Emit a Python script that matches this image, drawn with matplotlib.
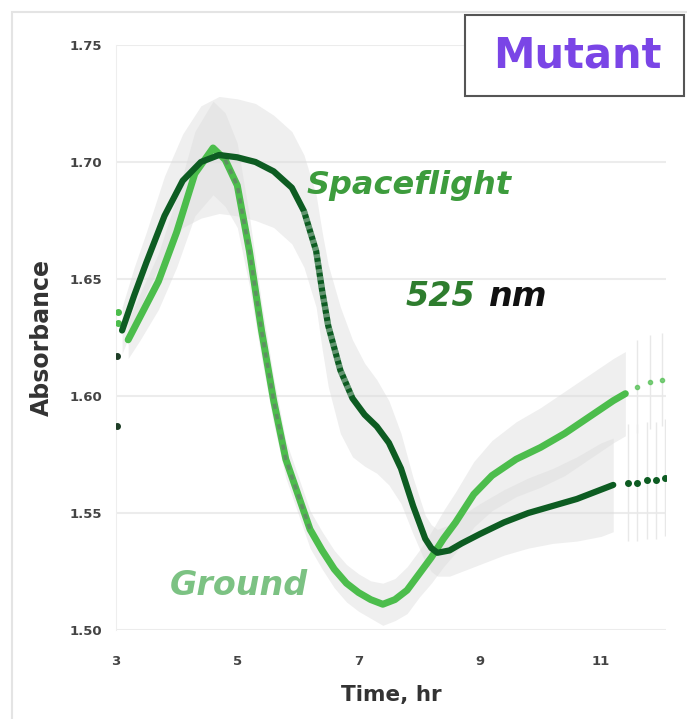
import numpy as np
import matplotlib.pyplot as plt
from matplotlib.patches import Rectangle

# spaceflight (mutant) absorbance at 525 nm
sf_t = [3.1, 3.3, 3.5, 3.8, 4.1, 4.4, 4.7, 5.0, 5.3, 5.6, 5.9, 6.1, 6.3, 6.4, 6.5, 6.7, 6.9,
        7.1, 7.3, 7.5, 7.7, 7.9, 8.1, 8.2, 8.3, 8.5, 8.7, 9.0, 9.4, 9.8, 10.2, 10.6, 11.0, 11.2]
sf_a = [1.628, 1.643, 1.657, 1.677, 1.692, 1.700, 1.703, 1.702, 1.700, 1.696, 1.689, 1.679,
        1.662, 1.645, 1.630, 1.611, 1.599, 1.592, 1.587, 1.580, 1.569, 1.553, 1.539, 1.535,
        1.533, 1.534, 1.537, 1.541, 1.546, 1.550, 1.553, 1.556, 1.560, 1.562]
sf_sd = [0.010, 0.012, 0.013, 0.017, 0.020, 0.024, 0.025, 0.025, 0.025, 0.024, 0.024, 0.024,
         0.024, 0.025, 0.026, 0.027, 0.025, 0.022, 0.020, 0.018, 0.015, 0.012, 0.010, 0.010,
         0.010, 0.011, 0.012, 0.013, 0.014, 0.015, 0.016, 0.018, 0.020, 0.020]
sf_head_t = [3.02, 3.02]
sf_head_a = [1.587, 1.617]
sf_tail_t = [11.45, 11.6, 11.75, 11.9, 12.05]
sf_tail_a = [1.563, 1.563, 1.564, 1.564, 1.565]

# ground
gr_t = [3.2, 3.4, 3.7, 4.0, 4.3, 4.6, 4.8, 5.0, 5.2, 5.4, 5.6, 5.8, 6.0, 6.2, 6.4, 6.6, 6.8,
        7.0, 7.2, 7.4, 7.6, 7.8, 8.0, 8.2, 8.4, 8.6, 8.9, 9.2, 9.6, 10.0, 10.4, 10.8, 11.2, 11.4]
gr_a = [1.624, 1.634, 1.649, 1.670, 1.695, 1.706, 1.701, 1.690, 1.662, 1.628, 1.598, 1.573,
        1.558, 1.543, 1.534, 1.526, 1.520, 1.516, 1.513, 1.511, 1.513, 1.517, 1.524, 1.531,
        1.539, 1.546, 1.558, 1.566, 1.573, 1.578, 1.584, 1.591, 1.598, 1.601]
gr_sd = [0.008, 0.010, 0.012, 0.015, 0.018, 0.020, 0.020, 0.018, 0.015, 0.012, 0.010, 0.008,
         0.008, 0.008, 0.008, 0.008, 0.008, 0.008, 0.008, 0.009, 0.009, 0.010, 0.010, 0.011,
         0.012, 0.013, 0.014, 0.015, 0.016, 0.017, 0.018, 0.018, 0.018, 0.018]
gr_head_t = [3.04, 3.04]
gr_head_a = [1.636, 1.631]
gr_tail_t = [11.6, 11.8, 12.0]
gr_tail_a = [1.604, 1.606, 1.607]

xticks = [3, 5, 7, 9, 11]
yticks = [1.50, 1.55, 1.60, 1.65, 1.70, 1.75]

dark = '#0d5c22'
light = '#4cbd4c'

fig = plt.figure(figsize=(6.87, 7.19), dpi=100)
# faint frame of the original panel
fig.patches.append(Rectangle((12/687, -0.1), 1.2, 1 - 12/719 + 0.1, transform=fig.transFigure,
                             fill=False, ec='#e4e4e4', lw=1.5))
ax = fig.add_axes([116/687, 89/719, 550/687, 585/719])

sf_t_ = np.array(sf_t); sf_a_ = np.array(sf_a); sf_sd_ = np.array(sf_sd)
gr_t_ = np.array(gr_t); gr_a_ = np.array(gr_a); gr_sd_ = np.array(gr_sd)

ax.fill_between(sf_t_, sf_a_ - sf_sd_, sf_a_ + sf_sd_, color='#dcdcdc', alpha=0.45, lw=0)
ax.fill_between(gr_t_, gr_a_ - gr_sd_, gr_a_ + gr_sd_, color='#dcdcdc', alpha=0.45, lw=0)

# faint error bars on the trailing points
ax.errorbar(sf_tail_t, sf_tail_a, yerr=0.025, fmt='none', ecolor='#e8e8e8', lw=1)
ax.errorbar(gr_tail_t, gr_tail_a, yerr=0.02, fmt='none', ecolor='#e8e8e8', lw=1)

ax.plot(gr_t, gr_a, color=light, lw=5, solid_capstyle='round', solid_joinstyle='round', zorder=3)
desc = (gr_t_ >= 4.7) & (gr_t_ <= 6.3)
ax.plot(gr_t_[desc], gr_a_[desc], color='#5e8f62', lw=2.5, ls=(0, (1.5, 1.5)), zorder=4)
ax.plot(sf_t, sf_a, color=dark, lw=4.5, solid_capstyle='round', solid_joinstyle='round', zorder=5)
drop = (sf_t_ >= 6.1) & (sf_t_ <= 6.9)
ax.plot(sf_t_[drop], sf_a_[drop], color='white', lw=4.5, ls=(0, (0.6, 0.6)), alpha=0.35, zorder=6)

ax.plot(sf_head_t, sf_head_a, 'o', color='#1e3d26', ms=4, zorder=5)
ax.plot(sf_tail_t, sf_tail_a, 'o', color=dark, ms=4, zorder=5)
ax.plot(gr_head_t, gr_head_a, 'o', color=light, ms=4, zorder=4)
ax.plot(gr_tail_t, gr_tail_a, 'o', color=light, ms=3, alpha=0.7, zorder=4)

ax.set_xlim(3, 12.07)
ax.set_ylim(1.50, 1.75)
ax.set_xticks(xticks)
ax.set_yticks(yticks)
ax.set_xticklabels([str(v) for v in xticks], fontsize=9.5, fontweight='bold', color='#444444')
ax.set_yticklabels([f'{v:.2f}' for v in yticks], fontsize=9.5, fontweight='bold', color='#444444')
ax.tick_params(axis='y', length=0, pad=10)
ax.tick_params(axis='x', length=0, pad=18)
ax.grid(axis='y', color='#ececec', lw=1.5)
ax.set_axisbelow(True)
for s in ['top', 'right', 'bottom']:
    ax.spines[s].set_visible(False)
ax.spines['left'].set_color('#eeeeee')

ax.set_xlabel('Time, hr', fontsize=15.5, fontweight='bold', color='#333333', labelpad=12)
ax.set_ylabel('Absorbance', fontsize=17, fontweight='bold', color='#333333', labelpad=11)

ax.text(6.15, 1.69, 'Spaceflight', fontsize=23, fontweight='bold', style='italic',
        color='#3d9c3d', va='center', ha='left')
ax.text(7.77, 1.6425, '525', fontsize=24, fontweight='bold', style='italic',
        color='#2e7d2e', va='center', ha='left')
ax.text(9.15, 1.6425, 'nm', fontsize=24, fontweight='bold', style='italic',
        color='#111111', va='center', ha='left')
ax.text(3.88, 1.519, 'Ground', fontsize=24, style='italic', fontweight='bold',
        color='#7cc283', va='center', ha='left')

fig.patches.append(Rectangle((465/687, 1 - 96/719), 219/687, 81/719, transform=fig.transFigure,
                             fc='white', ec='#555555', lw=1.5))
fig.text(577/687, 1 - 55/719, 'Mutant', fontsize=30, fontweight='bold', color='#7a45e6',
         ha='center', va='center')

fig.savefig('out.png', dpi=100)
